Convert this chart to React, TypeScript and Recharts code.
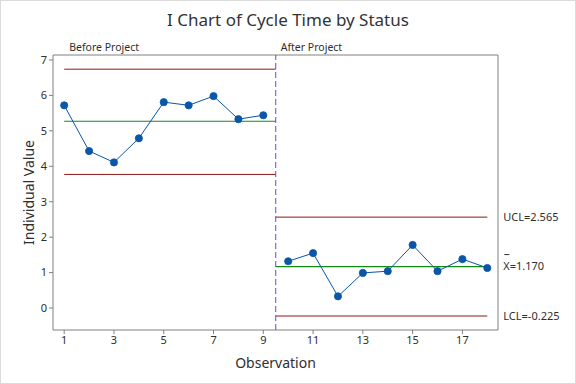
import { Line, LineChart, ReferenceArea, ReferenceLine, XAxis, YAxis } from 'recharts'

const OBSERVATIONS = [1, 2, 3, 4, 5, 6, 7, 8, 9, 10, 11, 12, 13, 14, 15, 16, 17, 18]
const BEFORE = [5.72, 4.43, 4.11, 4.79, 5.81, 5.72, 5.98, 5.33, 5.44]
const AFTER = [1.32, 1.55, 0.33, 0.99, 1.04, 1.78, 1.04, 1.38, 1.13]

const PHASES = ['Before Project', 'After Project']
const PHASE_START = [1, 9.5]
const PHASE_END = [9.5, 18]
const UCL = [6.74, 2.565]
const CENTER = [5.27, 1.17]
const LCL = [3.77, -0.225]

const X_TICKS = [1, 3, 5, 7, 9, 11, 13, 15, 17]
const Y_TICKS = [0, 1, 2, 3, 4, 5, 6, 7]
const X_DOMAIN = [0.55, 18.43]
const Y_DOMAIN = [-0.62, 7.14]

const FONT = '"Noto Sans", "Open Sans", sans-serif'
const TEXT = '#2e2e2e'
const FRAME = '#808080'
const LIMIT = '#8e1616'
const MEAN = '#138a13'
const POINT = '#0a56a8'

const data = OBSERVATIONS.map((obs, i) => ({
  obs,
  before: i < BEFORE.length ? BEFORE[i] : null,
  after: i >= BEFORE.length ? AFTER[i - BEFORE.length] : null,
}))

function PhaseLabel(props: any) {
  const { viewBox, value } = props
  return (
    <text x={viewBox.x + 5} y={viewBox.y - 4} fontSize={10.5} fill={TEXT} fontFamily={FONT}>
      {value}
    </text>
  )
}

function LimitLabel(props: any) {
  const { viewBox, value } = props
  const x = viewBox.x + viewBox.width + 16
  return (
    <text x={x} y={viewBox.y} dy="0.35em" fontSize={11} fill={TEXT} fontFamily={FONT}>
      {value}
    </text>
  )
}

function MeanLabel(props: any) {
  const { viewBox, value } = props
  const x = viewBox.x + viewBox.width + 16
  return (
    <g>
      <line x1={x + 1} x2={x + 6} y1={viewBox.y - 12} y2={viewBox.y - 12} stroke={TEXT} />
      <text x={x} y={viewBox.y} dy="0.35em" fontSize={11} fill={TEXT} fontFamily={FONT}>
        {value}
      </text>
    </g>
  )
}

const fmt = (v: number) => v.toFixed(3)

export default function App() {
  const last = PHASES.length - 1
  return (
    <div
      style={{
        position: 'absolute',
        left: 0,
        top: 0,
        width: 574,
        height: 382,
        border: '1px solid #dcdcdc',
        background: '#fff',
        fontFamily: FONT,
      }}
    >
      <div
        style={{
          position: 'absolute',
          top: 7,
          width: '100%',
          textAlign: 'center',
          fontSize: 17,
          color: '#333',
        }}
      >
        I Chart of Cycle Time by Status
      </div>
      <LineChart
        width={574}
        height={382}
        data={data}
        margin={{ top: 54, right: 77, bottom: 0, left: 0 }}
      >
        <XAxis
          dataKey="obs"
          type="number"
          domain={X_DOMAIN}
          ticks={X_TICKS}
          allowDataOverflow
          axisLine={false}
          tickLine={{ stroke: FRAME }}
          tickSize={4}
          height={53}
          tick={{ fontSize: 11, fill: TEXT, fontFamily: FONT }}
          label={{
            value: 'Observation',
            position: 'insideBottom',
            offset: 15,
            fontSize: 14,
            fill: TEXT,
            fontFamily: FONT,
          }}
        />
        <YAxis
          type="number"
          domain={Y_DOMAIN}
          ticks={Y_TICKS}
          allowDataOverflow
          axisLine={false}
          tickLine={{ stroke: FRAME }}
          tickSize={4}
          width={52}
          tick={{ fontSize: 11, fill: TEXT, fontFamily: FONT }}
          label={{
            value: 'Individual Value',
            angle: -90,
            position: 'insideLeft',
            offset: 28,
            style: { textAnchor: 'middle' },
            fontSize: 14,
            fill: TEXT,
            fontFamily: FONT,
          }}
        />
        <ReferenceArea
          x1={X_DOMAIN[0]}
          x2={X_DOMAIN[1]}
          y1={Y_DOMAIN[0]}
          y2={Y_DOMAIN[1]}
          fill="none"
          stroke={FRAME}
          strokeWidth={1}
        />
        {PHASES.map((name, p) => (
          <ReferenceArea
            key={name}
            x1={PHASE_START[p]}
            x2={PHASE_END[p]}
            y1={Y_DOMAIN[0]}
            y2={Y_DOMAIN[1]}
            fill="none"
            stroke="none"
            label={<PhaseLabel value={name} />}
          />
        ))}
        {PHASES.map((name, p) => (
          <ReferenceLine
            key={`ucl-${name}`}
            segment={[
              { x: PHASE_START[p], y: UCL[p] },
              { x: PHASE_END[p], y: UCL[p] },
            ]}
            stroke={LIMIT}
            strokeWidth={1}
            label={p === last ? <LimitLabel value={`UCL=${fmt(UCL[p])}`} /> : undefined}
          />
        ))}
        {PHASES.map((name, p) => (
          <ReferenceLine
            key={`cl-${name}`}
            segment={[
              { x: PHASE_START[p], y: CENTER[p] },
              { x: PHASE_END[p], y: CENTER[p] },
            ]}
            stroke={MEAN}
            strokeWidth={1.2}
            label={p === last ? <MeanLabel value={`X=${fmt(CENTER[p])}`} /> : undefined}
          />
        ))}
        {PHASES.map((name, p) => (
          <ReferenceLine
            key={`lcl-${name}`}
            segment={[
              { x: PHASE_START[p], y: LCL[p] },
              { x: PHASE_END[p], y: LCL[p] },
            ]}
            stroke={LIMIT}
            strokeWidth={1}
            label={p === last ? <LimitLabel value={`LCL=${fmt(LCL[p])}`} /> : undefined}
          />
        ))}
        <ReferenceLine x={PHASE_START[1]} stroke="#6a48c8" strokeDasharray="6 3" strokeWidth={1} />
        <Line
          dataKey="before"
          type="linear"
          stroke={POINT}
          strokeWidth={1}
          dot={{ r: 3.6, fill: POINT, stroke: POINT, strokeWidth: 0.8 }}
          isAnimationActive={false}
        />
        <Line
          dataKey="after"
          type="linear"
          stroke={POINT}
          strokeWidth={1}
          dot={{ r: 3.6, fill: POINT, stroke: POINT, strokeWidth: 0.8 }}
          isAnimationActive={false}
        />
      </LineChart>
    </div>
  )
}
